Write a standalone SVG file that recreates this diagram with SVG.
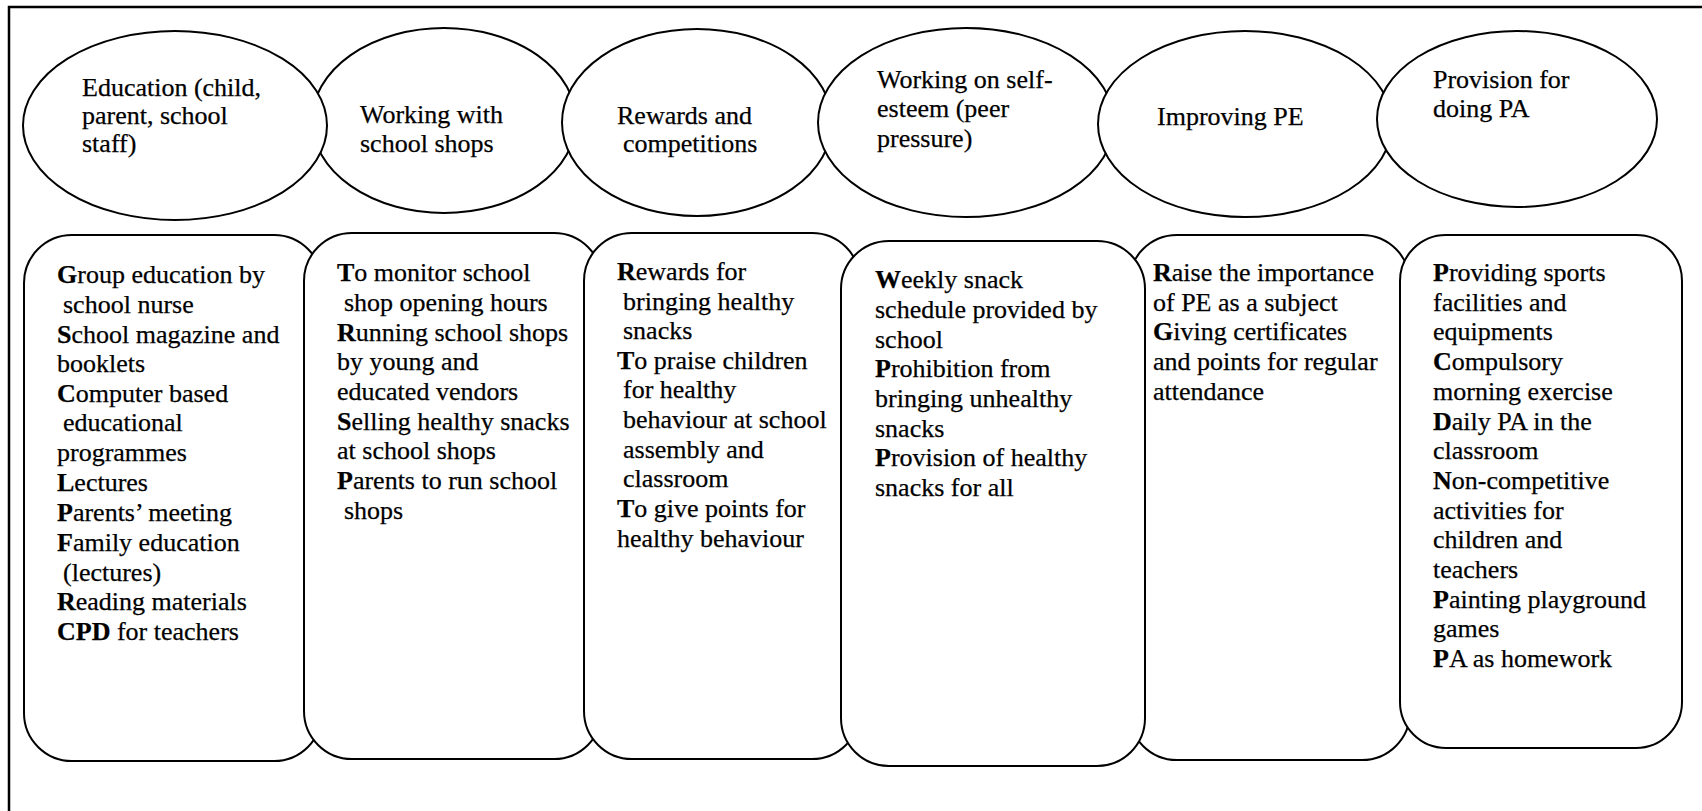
<svg xmlns="http://www.w3.org/2000/svg" width="1702" height="811" viewBox="0 0 1702 811">
<style>
.sh{fill:#fff;stroke:#000;stroke-width:2}
.t{font-family:'Liberation Serif','Times New Roman',serif;font-size:26px;fill:#000;stroke:#000;stroke-width:0.25}
.b{font-weight:bold}
</style>
<rect x="0" y="0" width="1702" height="811" fill="#fff"/>
<path d="M9,811 V7 H1702" fill="none" stroke="#000" stroke-width="2.5"/>
<g id="connectors"></g>
<g id="ellipse2"><ellipse class="sh" cx="444" cy="120.5" rx="132" ry="92.5"/>
<text class="t"><tspan x="360" y="123">Working with</tspan><tspan x="360" y="152">school shops</tspan></text></g>
<g id="ellipse1"><ellipse class="sh" cx="175" cy="125.5" rx="152" ry="94.5"/>
<text class="t"><tspan x="82" y="96">Education (child,</tspan><tspan x="82" y="124">parent, school</tspan><tspan x="82" y="152">staff)</tspan></text></g>
<g id="ellipse3"><ellipse class="sh" cx="697" cy="122.5" rx="135" ry="93.5"/>
<text class="t"><tspan x="617" y="124">Rewards and</tspan><tspan x="623" y="152">competitions</tspan></text></g>
<g id="ellipse4"><ellipse class="sh" cx="966" cy="122.5" rx="148" ry="94.5"/>
<text class="t"><tspan x="877" y="88">Working on self-</tspan><tspan x="877" y="117">esteem (peer</tspan><tspan x="877" y="147">pressure)</tspan></text></g>
<g id="ellipse5"><ellipse class="sh" cx="1245" cy="124" rx="147" ry="93"/>
<text class="t"><tspan x="1157" y="125">Improving PE</tspan></text></g>
<g id="ellipse6"><ellipse class="sh" cx="1517" cy="119" rx="140" ry="88"/>
<text class="t"><tspan x="1433" y="88">Provision for</tspan><tspan x="1433" y="117">doing PA</tspan></text></g>

<g id="box1"><rect class="sh" x="24" y="235" width="298" height="526" rx="48" ry="48"/>
<text class="t">
<tspan x="57" y="283"><tspan class="b">G</tspan>roup education by</tspan>
<tspan x="63" y="313">school nurse</tspan>
<tspan x="57" y="342.5"><tspan class="b">S</tspan>chool magazine and</tspan>
<tspan x="57" y="372">booklets</tspan>
<tspan x="57" y="401.5"><tspan class="b">C</tspan>omputer based</tspan>
<tspan x="63" y="431">educational</tspan>
<tspan x="57" y="461">programmes</tspan>
<tspan x="57" y="491"><tspan class="b">L</tspan>ectures</tspan>
<tspan x="57" y="521"><tspan class="b">P</tspan>arents’ meeting</tspan>
<tspan x="57" y="551"><tspan class="b">F</tspan>amily education</tspan>
<tspan x="63" y="580.5">(lectures)</tspan>
<tspan x="57" y="610"><tspan class="b">R</tspan>eading materials</tspan>
<tspan x="57" y="640"><tspan class="b">CPD</tspan> for teachers</tspan>
</text></g>

<g id="box2"><rect class="sh" x="304" y="233" width="298" height="526" rx="48" ry="48"/>
<text class="t">
<tspan x="337" y="281"><tspan class="b">T</tspan>o monitor school</tspan>
<tspan x="344" y="311">shop opening hours</tspan>
<tspan x="337" y="340.5"><tspan class="b">R</tspan>unning school shops</tspan>
<tspan x="337" y="370">by young and</tspan>
<tspan x="337" y="400">educated vendors</tspan>
<tspan x="337" y="429.5"><tspan class="b">S</tspan>elling healthy snacks</tspan>
<tspan x="337" y="459">at school shops</tspan>
<tspan x="337" y="489"><tspan class="b">P</tspan>arents to run school</tspan>
<tspan x="344" y="518.5">shops</tspan>
</text></g>

<g id="box3"><rect class="sh" x="584" y="233" width="276" height="526" rx="48" ry="48"/>
<text class="t">
<tspan x="617" y="280"><tspan class="b">R</tspan>ewards for</tspan>
<tspan x="623" y="309.5">bringing healthy</tspan>
<tspan x="623" y="339">snacks</tspan>
<tspan x="617" y="368.5"><tspan class="b">T</tspan>o praise children</tspan>
<tspan x="623" y="398">for healthy</tspan>
<tspan x="623" y="428">behaviour at school</tspan>
<tspan x="623" y="457.5">assembly and</tspan>
<tspan x="623" y="487">classroom</tspan>
<tspan x="617" y="517"><tspan class="b">T</tspan>o give points for</tspan>
<tspan x="617" y="546.5">healthy behaviour</tspan>
</text></g>

<g id="box5"><rect class="sh" x="1129" y="235" width="281" height="525" rx="48" ry="48"/>
<text class="t">
<tspan x="1153" y="281"><tspan class="b">R</tspan>aise the importance</tspan>
<tspan x="1153" y="310.5">of PE as a subject</tspan>
<tspan x="1153" y="340"><tspan class="b">G</tspan>iving certificates</tspan>
<tspan x="1153" y="370">and points for regular</tspan>
<tspan x="1153" y="399.5">attendance</tspan>
</text></g>

<g id="box4"><rect class="sh" x="841" y="241" width="304" height="525" rx="48" ry="48"/>
<text class="t">
<tspan x="875" y="288"><tspan class="b">W</tspan>eekly snack</tspan>
<tspan x="875" y="318">schedule provided by</tspan>
<tspan x="875" y="347.5">school</tspan>
<tspan x="875" y="377"><tspan class="b">P</tspan>rohibition from</tspan>
<tspan x="875" y="407">bringing unhealthy</tspan>
<tspan x="875" y="436.5">snacks</tspan>
<tspan x="875" y="466"><tspan class="b">P</tspan>rovision of healthy</tspan>
<tspan x="875" y="496">snacks for all</tspan>
</text></g>

<g id="box6"><rect class="sh" x="1400" y="235" width="282" height="513" rx="46" ry="46"/>
<text class="t">
<tspan x="1433" y="281"><tspan class="b">P</tspan>roviding sports</tspan>
<tspan x="1433" y="310.5">facilities and</tspan>
<tspan x="1433" y="340">equipments</tspan>
<tspan x="1433" y="370"><tspan class="b">C</tspan>ompulsory</tspan>
<tspan x="1433" y="399.5">morning exercise</tspan>
<tspan x="1433" y="429.5"><tspan class="b">D</tspan>aily PA in the</tspan>
<tspan x="1433" y="459">classroom</tspan>
<tspan x="1433" y="489"><tspan class="b">N</tspan>on-competitive</tspan>
<tspan x="1433" y="518.5">activities for</tspan>
<tspan x="1433" y="548">children and</tspan>
<tspan x="1433" y="578">teachers</tspan>
<tspan x="1433" y="607.5"><tspan class="b">P</tspan>ainting playground</tspan>
<tspan x="1433" y="637">games</tspan>
<tspan x="1433" y="667"><tspan class="b">P</tspan>A as homework</tspan>
</text></g>
</svg>
